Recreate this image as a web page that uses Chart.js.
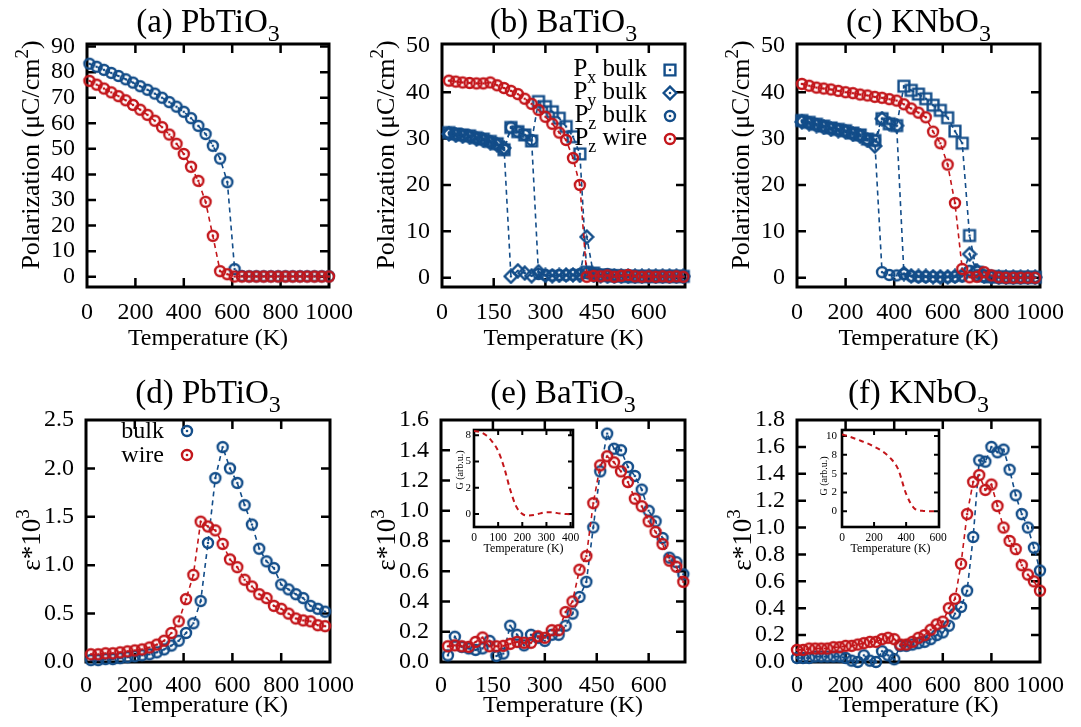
<!DOCTYPE html>
<html>
<head>
<meta charset="utf-8">
<title>Polarization and dielectric constant vs temperature</title>
<script src="https://cdn.jsdelivr.net/npm/chart.js@4.4.1/dist/chart.umd.min.js"></script>
<style>
  html, body { margin: 0; padding: 0; background: #fff; }
  body { position: relative; width: 1081px; height: 727px; overflow: hidden; }
  canvas { position: absolute; }
  canvas.inset { z-index: 2; }
</style>
</head>
<body>
<canvas id="chartA"></canvas>
<canvas id="chartB"></canvas>
<canvas id="chartC"></canvas>
<canvas id="chartD"></canvas>
<canvas id="chartE"></canvas>
<canvas id="chartF"></canvas>
<canvas id="insetE" class="inset"></canvas>
<canvas id="insetF" class="inset"></canvas>
<script>
// ---------- data ----------
// (a) PbTiO3 polarization
const tA = [10, 40, 70, 100, 130, 160, 190, 220, 250, 280, 310, 340, 370, 400, 430, 460, 490, 520, 550, 580,
            610, 640, 670, 700, 730, 760, 790, 820, 850, 880, 910, 940, 970, 1000];
const aBulk = [83.3, 82.1, 80.9, 79.7, 78.5, 77.2, 75.9, 74.5, 73.1, 71.6, 70.0, 68.3, 66.5, 64.5, 62.0, 59.0, 55.8, 51.2, 46.2, 37.0,
               3.0, 0.3, 0.2, 0.2, 0.2, 0.2, 0.2, 0.2, 0.2, 0.2, 0.2, 0.2, 0.2, 0.2];
const aWire = [76.6, 75.1, 73.6, 72.1, 70.6, 69.0, 67.2, 65.3, 63.3, 61.0, 58.5, 55.6, 52.0, 48.0, 43.0, 37.5, 29.3, 16.0, 2.2, 1.0,
               0.1, 0.1, 0.1, 0.1, 0.1, 0.1, 0.1, 0.1, 0.1, 0.1, 0.1, 0.1, 0.1, 0.1];

// (b) BaTiO3 polarization
const tB = [20, 40, 60, 80, 100, 120, 140, 160, 180, 200, 220, 240, 260, 280, 300, 320, 340, 360, 380, 400,
            420, 440, 460, 480, 500, 520, 540, 560, 580, 600, 620, 640, 660, 680, 700];
const bPx = [31.3, 31.0, 30.8, 30.6, 30.2, 29.9, 29.4, 28.9, 27.6, 32.4, 31.5, 30.8, 29.5, 38.0, 36.9, 35.8, 34.4, 32.6, 30.4, 26.7,
             1.2, 1.0, 0.6, 0.5, 0.4, 0.4, 0.3, 0.3, 0.3, 0.3, 0.3, 0.3, 0.3, 0.3, 0.3];
const bPy = [31.0, 30.7, 30.5, 30.3, 29.9, 29.6, 29.1, 28.6, 28.0, 0.3, 1.5, 1.0, 0.4, 1.3, 0.5, 0.4, 0.5, 0.6, 0.6, 0.5,
             8.8, 0.5, 0.4, 0.3, 0.3, 0.3, 0.3, 0.3, 0.3, 0.3, 0.3, 0.3, 0.3, 0.3, 0.3];
const bPz = [31.3, 31.0, 30.8, 30.6, 30.2, 29.9, 29.4, 28.9, 27.6, 32.4, 31.5, 30.8, 29.7, 0.8, 0.6, 0.5, 0.6, 0.5, 0.7, 0.8,
             1.0, 0.9, 0.5, 0.8, 0.6, 0.5, 0.4, 0.4, 0.3, 0.3, 0.3, 0.3, 0.3, 0.3, 0.3];
const bWire = [42.5, 42.3, 42.1, 42.0, 41.9, 41.9, 42.1, 41.5, 40.9, 40.3, 39.6, 38.6, 37.5, 36.2, 34.7, 33.2, 31.3, 29.7, 25.8, 20.0,
               0.2, 0.4, 0.3, 0.5, 0.2, 0.4, 0.6, 0.3, 0.2, 0.3, 0.2, 0.3, 0.2, 0.3, 0.2];

// (c) KNbO3 polarization
const tC = [20, 50, 80, 110, 140, 170, 200, 230, 260, 290, 320, 350, 380, 410, 440, 470, 500, 530, 560, 590,
            620, 650, 680, 710, 740, 770, 800, 830, 860, 890, 920, 950, 980];
const cPx = [33.9, 33.5, 33.1, 32.7, 32.3, 32.0, 31.7, 31.2, 30.8, 29.9, 29.6, 34.3, 33.2, 32.8, 41.3, 40.4, 39.6, 38.6, 37.2, 36.1,
             34.5, 31.6, 29.0, 9.1, 1.2, 0.4, 0.2, 0.2, 0.1, 0.1, 0.1, 0.1, 0.1];
const cPy = [33.6, 33.2, 32.8, 32.4, 32.0, 31.7, 31.4, 30.9, 30.5, 29.6, 28.4, 34.3, 33.2, 32.8, 0.9, 0.4, 0.3, 0.3, 0.2, 0.2,
             0.2, 0.3, 0.5, 5.1, 1.5, 0.3, 0.2, 0.1, 0.1, 0.1, 0.1, 0.1, 0.1];
const cPz = [33.9, 33.5, 33.1, 32.7, 32.3, 32.0, 31.7, 31.2, 30.8, 29.9, 29.6, 1.2, 0.6, 0.5, 0.8, 0.3, 0.2, 0.2, 0.2, 0.1,
             0.1, 0.2, 0.3, 1.5, 0.5, 0.2, 0.2, 0.1, 0.1, 0.1, 0.1, 0.1, 0.1];
const cWire = [41.8, 41.4, 41.0, 40.8, 40.6, 40.3, 40.0, 39.8, 39.5, 39.3, 39.0, 38.8, 38.5, 38.2, 37.4, 36.5, 35.6, 34.6, 31.5, 29.0,
               24.4, 16.1, 1.9, 0.1, 0.2, 1.2, 0.5, 0.1, 0.0, 0.0, 0.0, 0.0, 0.0];

// (d) PbTiO3 dielectric constant
const tD = [20, 50, 80, 110, 140, 170, 200, 230, 260, 290, 320, 350, 380, 410, 440, 470, 500, 530, 560, 590,
            620, 650, 680, 710, 740, 770, 800, 830, 860, 890, 920, 950, 980];
const dBulk = [0.02, 0.02, 0.03, 0.03, 0.04, 0.05, 0.06, 0.07, 0.08, 0.10, 0.13, 0.17, 0.22, 0.30, 0.40, 0.63, 1.23, 1.90, 2.22, 2.00,
               1.85, 1.62, 1.42, 1.17, 1.04, 0.97, 0.80, 0.75, 0.70, 0.66, 0.58, 0.55, 0.52];
const dWire = [0.08, 0.08, 0.09, 0.09, 0.10, 0.11, 0.12, 0.13, 0.15, 0.18, 0.22, 0.30, 0.42, 0.65, 0.90, 1.45, 1.40, 1.36, 1.22, 1.06,
               0.98, 0.85, 0.78, 0.70, 0.66, 0.58, 0.55, 0.50, 0.45, 0.43, 0.42, 0.38, 0.37];

// (e) BaTiO3 dielectric constant
const tE = tB;
const eBulk = [0.044, 0.167, 0.10, 0.09, 0.08, 0.09, 0.14, 0.04, 0.056, 0.24, 0.18, 0.11, 0.18, 0.16, 0.14, 0.18, 0.18, 0.24, 0.32, 0.43,
               0.53, 0.89, 1.26, 1.51, 1.41, 1.40, 1.29, 1.23, 1.14, 1.00, 0.93, 0.82, 0.69, 0.66, 0.58];
const eWire = [0.104, 0.11, 0.104, 0.10, 0.133, 0.162, 0.104, 0.104, 0.107, 0.12, 0.133, 0.127, 0.127, 0.17, 0.16, 0.21, 0.21, 0.33, 0.40, 0.61,
               0.70, 1.05, 1.30, 1.36, 1.32, 1.26, 1.19, 1.08, 1.03, 0.93, 0.86, 0.78, 0.67, 0.63, 0.53];

// (f) KNbO3 dielectric constant
const tF = [0, 25, 50, 75, 100, 125, 150, 175, 200, 225, 250, 275, 300, 325, 350, 375, 400, 425, 450, 475,
            500, 525, 550, 575, 600, 625, 650, 675, 700, 725, 750, 775, 800, 825, 850, 875, 900, 925, 950, 975, 1000];
const fBulk = [0.03, 0.03, 0.03, 0.04, 0.04, 0.04, 0.04, 0.04, 0.03, 0.01, 0.00, 0.05, 0.01, 0.00, 0.08, 0.05, 0.02, 0.12, 0.12, 0.13,
               0.14, 0.15, 0.17, 0.20, 0.22, 0.27, 0.36, 0.41, 0.53, 0.93, 1.50, 1.49, 1.60, 1.56, 1.58, 1.43, 1.24, 1.10, 1.00, 0.85, 0.68];
const fWire = [0.09, 0.09, 0.10, 0.10, 0.10, 0.10, 0.11, 0.11, 0.12, 0.12, 0.13, 0.14, 0.15, 0.15, 0.17, 0.18, 0.17, 0.13, 0.13, 0.15,
               0.18, 0.20, 0.24, 0.28, 0.30, 0.40, 0.47, 0.73, 1.10, 1.34, 1.39, 1.28, 1.32, 1.16, 1.00, 0.90, 0.84, 0.72, 0.65, 0.60, 0.53];

// insets: G (arb.u.)
const tGe = [0, 25, 50, 75, 100, 125, 150, 175, 200, 225, 250, 275, 300, 325, 350, 375, 400];
const gE = [7.9, 7.8, 7.5, 6.9, 6.0, 4.4, 2.3, 0.7, 0.0, -0.15, -0.1, 0.05, 0.15, 0.15, 0.05, 0.0, -0.05];
const tGf = [0, 50, 100, 150, 200, 250, 300, 350, 400, 450, 500, 550, 600];
const gF = [10.2, 9.9, 9.5, 9.1, 8.6, 8.0, 7.1, 5.6, 2.3, 0.4, 0.05, 0.0, 0.0];

// tick values / labels
const xTicks1000 = [0, 200, 400, 600, 800, 1000];
const xTicks700 = [0, 150, 300, 450, 600];
const yTicksA = [0, 10, 20, 30, 40, 50, 60, 70, 80, 90];
const yTicks50 = [0, 10, 20, 30, 40, 50];
const yTicksD = [0, 0.5, 1.0, 1.5, 2.0, 2.5];
const yTicksE = [0, 0.2, 0.4, 0.6, 0.8, 1.0, 1.2, 1.4, 1.6];
const yTicksF = [0, 0.2, 0.4, 0.6, 0.8, 1.0, 1.2, 1.4, 1.6, 1.8];
const gxTicksE = [0, 100, 200, 300, 400];
const gxTicksF = [0, 200, 400, 600];
const gyTicksE = [0, 2.5, 5, 7.5];
const gyLabelsE = ['0', '2', '5', '8'];
const gyTicksF = [0, 2.5, 5, 7.5, 10];
const gyLabelsF = ['0', '2', '5', '8', '10'];

// ---------- drawing ----------
const BLUE = '#134d89';
const RED = '#c3161b';
const SERIF = '"Liberation Serif", "Times New Roman", serif';

function marker(shape, color) {
  const c = document.createElement('canvas');
  c.width = c.height = 16;
  const g = c.getContext('2d');
  g.strokeStyle = color; g.fillStyle = color; g.lineWidth = 2.4;
  g.beginPath();
  if (shape === 'circle') g.arc(8, 8, 5.0, 0, Math.PI * 2);
  else if (shape === 'square') g.rect(2.6, 2.6, 10.8, 10.8);
  else { g.moveTo(8, 1.6); g.lineTo(14.4, 8); g.lineTo(8, 14.4); g.lineTo(1.6, 8); g.closePath(); }
  g.stroke();
  g.beginPath(); g.arc(8, 8, 1.3, 0, Math.PI * 2); g.fill();
  return c;
}
const mBlue = marker('circle', BLUE);
const mRed = marker('circle', RED);
const mSquare = marker('square', BLUE);
const mDiamond = marker('diamond', BLUE);

// text with sub/superscripts: parts = [[text, ''|'sub'|'sup'], ...]
function rich(ctx, parts, x, y, size, align) {
  const fontOf = m => (m ? Math.round(size * 0.72) : size) + 'px ' + SERIF;
  let w = 0;
  for (const [t, m] of parts) { ctx.font = fontOf(m); w += ctx.measureText(t).width; }
  let cx = align === 'center' ? x - w / 2 : align === 'right' ? x - w : x;
  ctx.textAlign = 'left'; ctx.textBaseline = 'alphabetic';
  for (const [t, m] of parts) {
    ctx.font = fontOf(m);
    const dy = m === 'sub' ? size * 0.28 : m === 'sup' ? -size * 0.42 : 0;
    ctx.fillText(t, cx, y + dy);
    cx += ctx.measureText(t).width;
  }
}

const deco = {
  id: 'deco',
  beforeDraw(chart, args, o) {
    if (!o.fill) return;
    const a = chart.chartArea, ctx = chart.ctx;
    ctx.save(); ctx.fillStyle = '#fff';
    ctx.fillRect(a.left, a.top, a.right - a.left, a.bottom - a.top);
    ctx.restore();
  },
  beforeDatasetsDraw(chart, args, o) {
    const { ctx, chartArea: a } = chart;
    const x = chart.scales.x, y = chart.scales.y;
    ctx.save();
    ctx.strokeStyle = '#000';
    ctx.lineWidth = o.tickWidth;
    ctx.beginPath();
    for (const t of x.ticks) {
      const p = x.getPixelForValue(t.value);
      if (p < a.left + 2 || p > a.right - 2) continue;
      ctx.moveTo(p, a.bottom); ctx.lineTo(p, a.bottom - o.tickLen);
      ctx.moveTo(p, a.top); ctx.lineTo(p, a.top + o.tickLen);
    }
    for (const t of y.ticks) {
      const p = y.getPixelForValue(t.value);
      if (p < a.top + 2 || p > a.bottom - 2) continue;
      ctx.moveTo(a.left, p); ctx.lineTo(a.left + o.tickLen, p);
      ctx.moveTo(a.right, p); ctx.lineTo(a.right - o.tickLen, p);
    }
    ctx.stroke();
    ctx.lineWidth = o.frameWidth;
    ctx.strokeRect(a.left, a.top, a.right - a.left, a.bottom - a.top);
    ctx.restore();
  },
  afterDraw(chart, args, o) {
    const { ctx, chartArea: a } = chart;
    const cx = (a.left + a.right) / 2;
    ctx.save();
    ctx.fillStyle = '#000';
    if (o.title) rich(ctx, o.title, cx, a.top + o.titleDy, o.titleSize, 'center');
    rich(ctx, [['Temperature (K)', '']], cx, a.bottom + o.xTitleDy, o.xTitleSize, 'center');
    if (o.legend) {
      const L = o.legend;
      for (const it of L.items) {
        rich(ctx, it.parts, a.left + L.textX, a.top + it.y + L.base, L.size, 'right');
        ctx.drawImage(it.img, a.left + L.markX - it.img.width / 2, a.top + it.y - it.img.height / 2);
      }
    }
    ctx.translate(a.left + o.yTitleDx, a.top + o.yTitleDy);
    ctx.rotate(-Math.PI / 2);
    rich(ctx, o.yTitle, 0, o.yTitleSize * 0.33, o.yTitleSize, 'center');
    ctx.restore();
  }
};

function pts(xs, ys) { return xs.map((x, i) => ({ x, y: ys[i] })); }

function series(xs, ys, color, img) {
  return {
    data: pts(xs, ys), showLine: true, borderColor: color, borderWidth: 1.6, borderDash: [5, 4],
    pointStyle: img, pointRadius: 6, pointHoverRadius: 6, clip: false
  };
}

function axis(range, ticks, fmt, size, pad, fitFn) {
  return {
    type: 'linear', min: range[0], max: range[1],
    grid: { display: false, drawTicks: false }, border: { display: false },
    ticks: { font: { family: SERIF, size }, color: '#000', padding: pad, autoSkip: false, maxRotation: 0, callback: fmt },
    afterBuildTicks: s => { s.ticks = ticks.map(v => ({ value: v })); },
    afterFit: fitFn
  };
}

// main panels: box = plot area in page pixels
function mainChart(id, box, c) {
  const cv = document.getElementById(id);
  const left = 87, top = 44, right = 34;
  cv.width = left + box.w + right; cv.height = top + box.h + box.foot;
  cv.style.left = (box.l - left) + 'px'; cv.style.top = (box.t - top) + 'px';
  return new Chart(cv, {
    type: 'scatter',
    data: { datasets: c.sets },
    options: {
      responsive: false, animation: false, devicePixelRatio: 1,
      layout: { padding: { left: 0, top, right, bottom: 0 } },
      plugins: {
        legend: { display: false }, tooltip: { enabled: false },
        deco: Object.assign({ tickLen: 9, tickWidth: 2.5, frameWidth: 3, titleSize: 33, xTitleSize: 24 }, c.deco)
      },
      scales: {
        x: axis(c.x, c.xt, v => String(v), 24, box.xPad, s => { s.height = box.foot; s.paddingLeft = 0; s.paddingRight = 0; }),
        y: axis(c.y, c.yt, v => v.toFixed(c.yDec), 24, 12, s => { s.width = left; s.paddingTop = 0; s.paddingBottom = 0; })
      }
    },
    plugins: [deco]
  });
}

function insetChart(id, box, xs, ys, c) {
  const cv = document.getElementById(id);
  const left = 26, top = 6, right = 12, foot = 32;
  cv.width = left + box.w + right; cv.height = top + box.h + foot;
  cv.style.left = (box.l - left) + 'px'; cv.style.top = (box.t - top) + 'px';
  return new Chart(cv, {
    type: 'scatter',
    data: { datasets: [{
      data: pts(xs, ys), showLine: true, borderColor: RED, borderWidth: 2, borderDash: [5, 4],
      pointRadius: 0, cubicInterpolationMode: 'monotone'
    }] },
    options: {
      responsive: false, animation: false, devicePixelRatio: 1,
      layout: { padding: { left: 0, top, right, bottom: 0 } },
      plugins: {
        legend: { display: false }, tooltip: { enabled: false },
        deco: Object.assign({ fill: true, tickLen: 5, tickWidth: 2, frameWidth: 2.6, xTitleSize: 12, xTitleDy: 25, yTitleSize: 10 }, c.deco)
      },
      scales: {
        x: axis(c.x, c.xt, v => String(v), 11.5, 4, s => { s.height = foot; s.paddingLeft = 0; s.paddingRight = 0; }),
        y: axis(c.y, c.yt, (v, i) => c.yl[i], 11, c.yPad, s => { s.width = left; s.paddingTop = 0; s.paddingBottom = 0; })
      }
    },
    plugins: [deco]
  });
}

const POL = [['Polarization (\u03bcC/cm', ''], ['2', 'sup'], [')', '']];
const EPS = [['\u03b5*10', ''], ['3', 'sup']];
const topRow = { titleDy: -12, xTitleDy: 58, yTitleDx: -57, yTitleDy: 111, yTitle: POL, yTitleSize: 26 };
const botRow = { titleDy: -17, xTitleDy: 50, yTitleDx: -55, yTitleDy: 120, yTitle: EPS, yTitleSize: 27 };

mainChart('chartA', { l: 87, t: 44, w: 242, h: 243, foot: 70, xPad: 11 }, {
  x: [0, 1000], xt: xTicks1000, y: [-4, 91], yt: yTicksA, yDec: 0,
  deco: Object.assign({ title: [['(a) PbTiO', ''], ['3', 'sub']] }, topRow),
  sets: [series(tA, aWire, RED, mRed), series(tA, aBulk, BLUE, mBlue)]
});

mainChart('chartB', { l: 442, t: 44, w: 243, h: 243, foot: 70, xPad: 11 }, {
  x: [0, 705], xt: xTicks700, y: [-2, 50.4], yt: yTicks50, yDec: 0,
  deco: Object.assign({
    title: [['(b) BaTiO', ''], ['3', 'sub']],
    legend: { textX: 205, markX: 228, base: 6, size: 25, items: [
      { parts: [['P', ''], ['x', 'sub'], [' bulk', '']], img: mSquare, y: 26 },
      { parts: [['P', ''], ['y', 'sub'], [' bulk', '']], img: mDiamond, y: 49 },
      { parts: [['P', ''], ['z', 'sub'], [' bulk', '']], img: mBlue, y: 72 },
      { parts: [['P', ''], ['z', 'sub'], [' wire', '']], img: mRed, y: 95 }
    ] }
  }, topRow),
  sets: [series(tB, bWire, RED, mRed), series(tB, bPz, BLUE, mBlue),
         series(tB, bPy, BLUE, mDiamond), series(tB, bPx, BLUE, mSquare)]
});

mainChart('chartC', { l: 797, t: 44, w: 243, h: 243, foot: 70, xPad: 11 }, {
  x: [0, 1000], xt: xTicks1000, y: [-2, 50.4], yt: yTicks50, yDec: 0,
  deco: Object.assign({ title: [['(c) KNbO', ''], ['3', 'sub']] }, topRow),
  sets: [series(tC, cWire, RED, mRed), series(tC, cPz, BLUE, mBlue),
         series(tC, cPy, BLUE, mDiamond), series(tC, cPx, BLUE, mSquare)]
});

mainChart('chartD', { l: 86, t: 420, w: 244, h: 242, foot: 65, xPad: 9 }, {
  x: [0, 1000], xt: xTicks1000, y: [0, 2.5], yt: yTicksD, yDec: 1,
  deco: Object.assign({
    title: [['(d) PbTiO', ''], ['3', 'sub']],
    legend: { textX: 78, markX: 101, base: 7, size: 24, items: [
      { parts: [['bulk', '']], img: mBlue, y: 11 },
      { parts: [['wire', '']], img: mRed, y: 35 }
    ] }
  }, botRow),
  sets: [series(tD, dWire, RED, mRed), series(tD, dBulk, BLUE, mBlue)]
});

mainChart('chartE', { l: 441, t: 420, w: 244, h: 242, foot: 65, xPad: 9 }, {
  x: [0, 705], xt: xTicks700, y: [0, 1.6], yt: yTicksE, yDec: 1,
  deco: Object.assign({ title: [['(e) BaTiO', ''], ['3', 'sub']] }, botRow),
  sets: [series(tE, eWire, RED, mRed), series(tE, eBulk, BLUE, mBlue)]
});

mainChart('chartF', { l: 797, t: 420, w: 243, h: 242, foot: 65, xPad: 9 }, {
  x: [0, 1000], xt: xTicks1000, y: [0, 1.8], yt: yTicksF, yDec: 1,
  deco: Object.assign({ title: [['(f) KNbO', ''], ['3', 'sub']] }, botRow),
  sets: [series(tF, fWire, RED, mRed), series(tF, fBulk, BLUE, mBlue)]
});

const GLAB = [['G (arb.u.)', '']];
insetChart('insetE', { l: 474, t: 430, w: 99, h: 97 }, tGe, gE, {
  x: [0, 410], xt: gxTicksE, y: [-1.25, 8], yt: gyTicksE, yl: gyLabelsE, yPad: 3,
  deco: { yTitle: GLAB, yTitleDx: -14, yTitleDy: 40 }
});
insetChart('insetF', { l: 842, t: 430, w: 97, h: 97 }, tGf, gF, {
  x: [0, 605], xt: gxTicksF, y: [-2.1, 10.8], yt: gyTicksF, yl: gyLabelsF, yPad: 5,
  deco: { yTitle: GLAB, yTitleDx: -18, yTitleDy: 46 }
});
</script>
</body>
</html>
